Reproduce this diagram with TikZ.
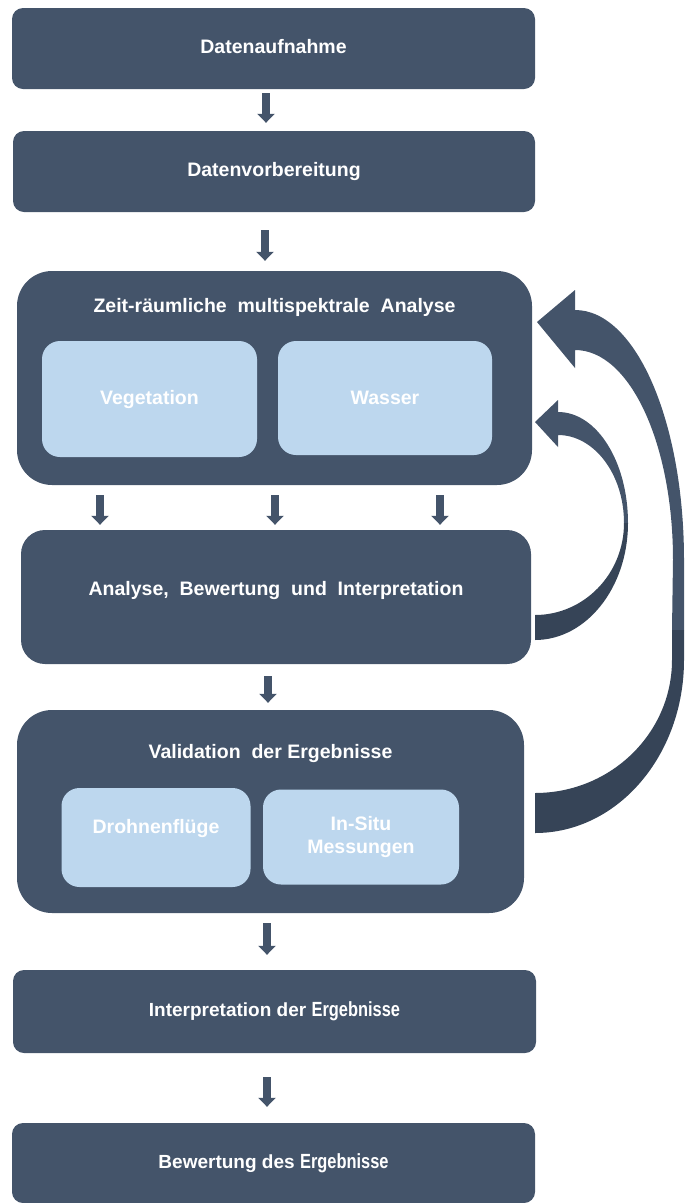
\documentclass[tikz,border=0pt]{standalone}
\usepackage{fontspec}
\setmainfont{Liberation Sans}
\usepackage{tikz}
\usetikzlibrary{calc,positioning,arrows.meta}
\definecolor{slate}{HTML}{44546A}
\definecolor{slatedk}{HTML}{364457}
\definecolor{paleblue}{HTML}{BDD7EE}
\newcommand{\ergeb}{\scalebox{0.8}[1]{\fontsize{20.5}{23}\selectfont Ergebnisse}}

\begin{document}
\begin{tikzpicture}[x=1pt,y=-1pt, stage/.style={fill=slate,rounded corners=11pt,minimum width=523pt,minimum height=81pt,inner sep=0pt,text=white,text height=14pt,text depth=4pt,font=\bfseries\fontsize{19.5}{23}\selectfont},group/.style={stage,rounded corners=35pt},part/.style={fill=paleblue,rounded corners=18pt,inner sep=0pt,text=white,align=center,font=\bfseries\fontsize{19.5}{23}\selectfont},ttl/.style={text=white,inner sep=0pt,font=\bfseries\fontsize{19.5}{23}\selectfont},dn/.style={draw=slate,line width=8pt,-{Triangle[length=9pt,width=17pt]}}]
            \useasboundingbox (0,0) rectangle (685,1203);

            \node[stage] (dat) at (273.5,48.5) {Datenaufnahme};
            \node[stage,minimum width=522pt] (prep) at (274,171.5) {Datenvorbereitung};

            \node[group,minimum width=515pt,minimum height=214pt] (zeit) at (274.5,378) {};
            \node[ttl] (zeitT) at (274.5,307) {Zeit-räumliche\ \ multispektrale\ \ Analyse};
            \node[part,minimum width=215pt,minimum height=116pt] (veg) at (149.5,399) {Vegetation};
            \node[part,minimum width=214pt,minimum height=114pt] (was) at (385,398) {Wasser};

            \node[group,rounded corners=24pt,minimum width=510pt,minimum height=134pt] (ana) at (276,597) {\raisebox{7pt}{Analyse,\ \ Bewertung\ \ und\ \ Interpretation}};

            \node[group,minimum width=507pt,minimum height=203pt] (val) at (270.5,811.5) {};
            \node[ttl] (valT) at (270.5,753) {Validation\ \ der Ergebnisse};
            \node[part,minimum width=189pt,minimum height=99pt] (dro) at (156,837.5) {\raisebox{23pt}{Drohnenflüge}};
            \node[part,minimum width=196pt,minimum height=95pt] (situ) at (361,837) {In-Situ\\Messungen};

            \node[stage,minimum height=83pt] (interp) at (274.5,1011.5) {{\fontsize{19}{21}\selectfont Interpretation der} \ergeb};
            \node[stage,minimum height=80pt] (bew) at (273.5,1163) {{\fontsize{19}{21}\selectfont Bewertung des} \ergeb};

            \coordinate (c1) at (266,0);
            \coordinate (c2) at (265,0);
            \coordinate (c3) at (100,0);
            \coordinate (c4) at (275,0);
            \coordinate (c5) at (440,0);
            \coordinate (c6) at (268,0);
            \coordinate (c7) at (267,0);
            \draw[dn,shorten <=4pt,shorten >=8pt] (dat.south -| c1) -- (prep.north -| c1);
            \draw[dn,shorten <=18pt,shorten >=10pt] (prep.south -| c2) -- (zeit.north -| c2);
            \draw[dn,shorten <=10pt,shorten >=5pt] (zeit.south -| c3) -- (ana.north -| c3);
            \draw[dn,shorten <=10pt,shorten >=5pt] (zeit.south -| c4) -- (ana.north -| c4);
            \draw[dn,shorten <=10pt,shorten >=5pt] (zeit.south -| c5) -- (ana.north -| c5);
            \draw[dn,shorten <=12pt,shorten >=7pt] (ana.south -| c6) -- (val.north -| c6);
            \draw[dn,shorten <=10pt,shorten >=15pt] (val.south -| c7) -- (interp.north -| c7);
            \draw[dn,shorten <=24pt,shorten >=16pt] (interp.south -| c7) -- (bew.north -| c7);

            % feedback: Validation -> Analyse
            \fill[slate] (537,322) -- (575,290) -- (575,310) .. controls (636,310) and (684,422) .. (684,560) -- (684,630) -- (672,630) -- (673,560) .. controls (673,444) and (630,350) .. (575,350) -- (575,368) -- cycle;
            \fill[slatedk] (684,630) -- (684,660) .. controls (684,755) and (618,833) .. (535,833) -- (535,793) .. controls (611,793) and (672,733) .. (672,660) -- (672,630) -- cycle;
            % feedback: Interpretation -> Analyse
            \fill[slate] (535,422) -- (558,400) -- (558,412) .. controls (597,412) and (628,462) .. (628,523) -- (624,523) .. controls (624,474) and (594,435) .. (558,435) -- (558,447) -- cycle;
            \fill[slatedk] (628,523) .. controls (628,588) and (586,640) .. (535,640) -- (535,615) .. controls (584,615) and (624,574) .. (624,523) -- cycle;
          \end{tikzpicture}
\end{document}
